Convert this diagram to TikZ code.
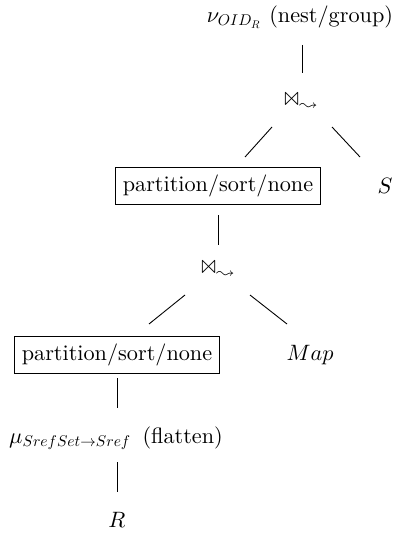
\documentclass[tikz,border=0pt]{standalone}
\usepackage{latexsym}
\DeclareFontShape{OML}{cmm}{m}{it}{<->cmmi10}{\skewchar\font127}
\DeclareFontShape{OMS}{cmsy}{m}{n}{<->cmsy10}{\skewchar\font48}
\begin{document}
\begin{tikzpicture}[x=0.45pt,y=-0.45pt,
  lbl/.style={inner sep=3.33pt},
  boxnode/.style={draw,inner sep=3.33pt},
  conn/.style={line width=0.4pt}]
\useasboundingbox (0,0) rectangle (395,533);
\node[lbl] (top) at (300,17) {$\nu_{OID_R}$\ (nest/group)};
\node[lbl] (j1) at (301,103) {$\Join_{\leadsto}$};
\node[boxnode] (b1) at (218,186) {partition/sort/none};
\node[lbl] (S) at (385,186) {$S$};
\node[lbl] (j2) at (218,271) {$\Join_{\leadsto}$};
\node[boxnode] (b2) at (117,355) {partition/sort/none};
\node[lbl] (map) at (310,355) {$Map$};
\node[lbl] (mu) at (116,438) {$\mu_{SrefSet\to Sref}$\enspace(flatten)};
\node[lbl] (R) at (117,520) {$R$};
% connectors
\draw[conn] ([shift={(1,-58)}]j1.center) -- ([shift={(1,-30)}]j1.center);
\draw[conn] ([shift={(-29,24)}]j1.center) -- ([shift={(27,-29)}]b1.center);
\draw[conn] ([shift={(31,24)}]j1.center) -- ([shift={(-25,-29)}]S.center);
\draw[conn] ([shift={(0,29)}]b1.center) -- ([shift={(0,-26)}]j2.center);
\draw[conn] ([shift={(-33,24)}]j2.center) -- ([shift={(32,-31)}]b2.center);
\draw[conn] ([shift={(32,24)}]j2.center) -- ([shift={(-23,-31)}]map.center);
\draw[conn] ([shift={(0,23)}]b2.center) -- ([shift={(1,-30)}]mu.center);
\draw[conn] ([shift={(1,24)}]mu.center) -- ([shift={(0,-28)}]R.center);
\end{tikzpicture}
\end{document}
